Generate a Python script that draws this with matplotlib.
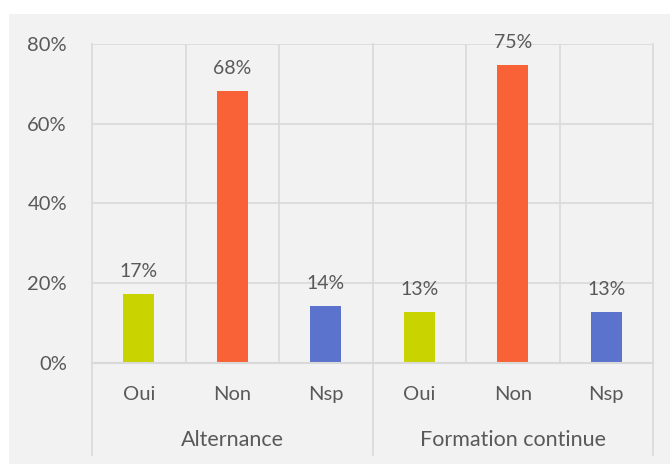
import matplotlib.pyplot as plt
from matplotlib.patches import Rectangle
from matplotlib.lines import Line2D

groups = ["Alternance", "Formation continue"]
answers = ["Oui", "Non", "Nsp"]
values = [0.174, 0.682, 0.143, 0.127, 0.747, 0.127]
colors = ["#C9D300", "#F96237", "#5B73CC"]

plt.rcParams['font.family'] = ['Lato', 'DejaVu Sans']
txt = "#595959"
grid = "#D9D9D9"

fig = plt.figure(figsize=(6.7, 4.65), dpi=100)
fig.patches.append(Rectangle((9/670, 1/465), 1, 1 - 15/465, transform=fig.transFigure,
                             facecolor="#F2F2F2", edgecolor="none", zorder=-10))

ax = fig.add_axes([92/670, 1 - 363/465, (653 - 92)/670, (363 - 44)/465])
ax.set_facecolor("none")

x = list(range(len(values)))
ax.bar(x, values, width=0.33, color=colors * 2, zorder=3)
for xi, v in zip(x, values):
    ax.annotate(f"{v*100:.0f}%", (xi, v), xytext=(0, 10), textcoords="offset points",
                ha="center", va="bottom", fontsize=14, color=txt)

ax.set_xlim(-0.5, 5.5)
ax.set_ylim(0, 0.8)
ax.set_yticks([0, 0.2, 0.4, 0.6, 0.8])
ax.set_yticklabels(["0%", "20%", "40%", "60%", "80%"])
ax.tick_params(axis="y", length=0, pad=18, labelsize=14.5, labelcolor=txt)
ax.set_xticks([])
for s in ax.spines.values():
    s.set_visible(False)
for yv in [0.2, 0.4, 0.6, 0.8]:
    ax.axhline(yv, color=grid, lw=1.2, zorder=1)
ax.axhline(0, color=grid, lw=1.5, zorder=4, clip_on=False)

# inner separators
for xv in [0.5, 1.5, 3.5, 4.5]:
    ax.axvline(xv, color=grid, lw=1.2, zorder=1)

# group separators extending down
trans = ax.get_xaxis_transform()
for xv in [-0.5, 2.5, 5.5]:
    ax.add_line(Line2D([xv, xv], [-(455 - 363)/319, 1], transform=trans,
                       color=grid, lw=1.2, clip_on=False, zorder=1))

for xi in x:
    ax.text(xi, -(394 - 363)/319, answers[xi % 3], transform=trans, ha="center",
            va="center", fontsize=14.5, color=txt)
for gi, g in enumerate(groups):
    ax.text(gi * 3 + 1, -(440 - 363)/319, g, transform=trans, ha="center",
            va="center", fontsize=15.5, color=txt)

fig.savefig("out.png", dpi=100, facecolor="white")
